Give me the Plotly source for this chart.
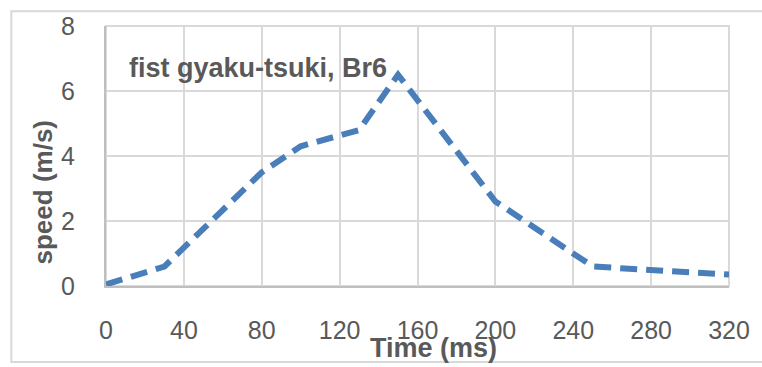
import plotly.graph_objects as go

time_ms = [0, 30, 80, 100, 130, 150, 200, 250, 320]
speed = [0.05, 0.6, 3.5, 4.3, 4.8, 6.5, 2.6, 0.6, 0.35]
x_ticks = [0, 40, 80, 120, 160, 200, 240, 280, 320]
y_ticks = [0, 2, 4, 6, 8]

FONT = "Liberation Sans, Arial, sans-serif"
GREY = "#595959"

fig = go.Figure()
fig.add_trace(go.Scatter(
    x=time_ms, y=speed, mode="lines",
    line=dict(color="#4a7ebb", width=6, dash="17px,9px"),
    showlegend=False, hoverinfo="skip",
))

fig.update_layout(
    width=762, height=367,
    margin=dict(l=106, r=32, t=22, b=81),
    paper_bgcolor="white", plot_bgcolor="white",
    font=dict(family=FONT, color=GREY, size=25),
    xaxis=dict(
        range=[0, 320], tickvals=x_ticks, showgrid=True, gridcolor="#d9d9d9", gridwidth=2,
        showline=True, linecolor="#bfbfbf", linewidth=2, mirror=False, zeroline=False,
        ticks="", ticklabelstandoff=21, tickfont=dict(size=25, color=GREY),
    ),
    yaxis=dict(
        range=[0, 8], tickvals=y_ticks, showgrid=True, gridcolor="#d9d9d9", gridwidth=2,
        showline=True, linecolor="#bfbfbf", linewidth=2, zeroline=False,
        ticks="", ticklabelstandoff=24, tickfont=dict(size=25, color=GREY),
    ),
    annotations=[
        dict(text="<b>fist gyaku-tsuki, Br6</b>", xref="paper", yref="paper",
             x=0.033, y=0.84, xanchor="left", yanchor="middle", showarrow=False,
             font=dict(size=27, color=GREY, family=FONT)),
        dict(text="<b>Time (ms)</b>", xref="paper", yref="paper",
             x=0.525, y=-0.24, xanchor="center", yanchor="middle", showarrow=False,
             font=dict(size=27, color=GREY, family=FONT)),
        dict(text="<b>speed (m/s)</b>", xref="paper", yref="paper", textangle=-90,
             x=-0.101, y=0.36, xanchor="center", yanchor="middle", showarrow=False,
             font=dict(size=26, color=GREY, family=FONT)),
    ],
    shapes=[
        # plot area border (top/right)
        dict(type="rect", xref="paper", yref="paper", x0=0, x1=1, y0=0, y1=1,
             line=dict(color="#d9d9d9", width=2), layer="below"),
        # outer chart border
        dict(type="rect", xref="paper", yref="paper", x0=-0.152, x1=1.07, y0=-0.292, y1=1.057,
             line=dict(color="#d9d9d9", width=2)),
    ],
)

fig.write_html("out.html")
